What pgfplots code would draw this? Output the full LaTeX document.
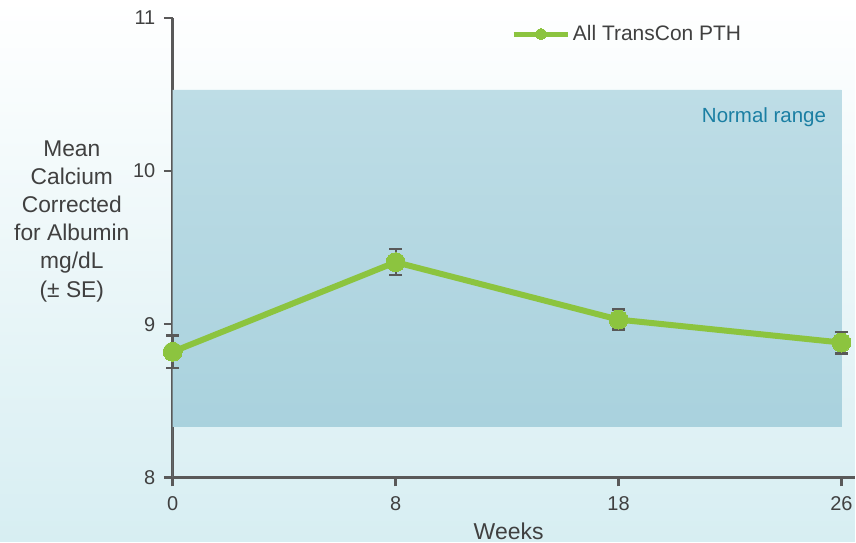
\documentclass[border=0pt]{standalone}
\usepackage{pgfplots}
\pgfplotsset{compat=1.18}
\usepackage{fontspec}
\setmainfont{Liberation Sans}
\definecolor{linegreen}{HTML}{8CC43F}
\definecolor{textgray}{HTML}{404040}
\definecolor{axisgray}{HTML}{595959}
\definecolor{bandtop}{HTML}{BEDDE6}
\definecolor{bandbot}{HTML}{A6D0DC}
\definecolor{bgbot}{HTML}{D7EEF2}
\definecolor{teal}{HTML}{1B7FA3}
\begin{document}
\begin{tikzpicture}[x=1pt,y=1pt]
\shade[top color=white, bottom color=bgbot] (0,0) rectangle (856,542);
\begin{axis}[
  at={(173pt,64pt)}, anchor=south west,
  scale only axis, width=683pt, height=460pt,
  xmin=0, xmax=3.06, ymin=8, ymax=11,
  axis x line*=bottom, axis y line*=left,
  axis line style={axisgray, line width=2.5pt},
  tick style={axisgray, line width=2.5pt},
  major tick length=9pt,
  tick align=outside,
  xtick={0,1,2,3}, xticklabels={0,8,18,26},
  ytick={8,9,10,11},
  minor tick num=0,
  /pgf/number format/assume math mode=true,
  tick label style={font=\fontsize{20}{24}\selectfont, text=textgray},
  yticklabel style={xshift=-5pt},
  xticklabel style={yshift=-7pt},
  xlabel={Weeks},
  xlabel style={font=\fontsize{23}{26}\selectfont, text=textgray, at={(axis description cs:0.4925,-0.1348)}, anchor=base},
  ylabel={Mean\\Calcium\\Corrected\\for Albumin\\mg/dL\\(± SE)},
  ylabel style={rotate=-90, align=center, font=\fontsize{22.8}{28.2}\selectfont, text=textgray, at={(axis description cs:-0.148,0.5576)}, anchor=center},
  legend style={draw=none, fill=none, at={(axis description cs:0.496,0.965)}, anchor=west, font=\fontsize{21}{24}\selectfont, text=textgray, inner sep=0pt, outer sep=0pt},
  legend cell align=left,
  legend image code/.code={
    \draw[#1, mark=none, line width=5pt] (0pt,0pt) -- (55pt,0pt);
    \draw[#1, mark size=5.5pt] plot coordinates {(27.5pt,0pt)};
  },
  clip=false,
]
\addplot[draw=none, shade, top color=bandtop, bottom color=bandbot, forget plot]
  coordinates {(0,8.33) (3,8.33) (3,10.53) (0,10.53)} \closedcycle;
\node[anchor=base east, text=teal, font=\fontsize{20.5}{24}\selectfont] at (axis description cs:0.963,0.772) {Normal range};
\addplot[linegreen, line width=6pt, mark=*, mark size=9.5pt,
  mark options={fill=linegreen, draw=linegreen, line width=0pt},
  error bars/.cd, y dir=both, y explicit,
  error bar style={axisgray, line width=2pt},
  error mark options={rotate=90, mark size=6.5pt, axisgray, line width=2.5pt}]
  coordinates {
  (0,8.82) +- (0,0.105)
  (1,9.405) +- (0,0.085)
  (2,9.03) +- (0,0.065)
  (3,8.88) +- (0,0.07)
  };
\addlegendentry{All TransCon PTH}
\end{axis}
\end{tikzpicture}
\end{document}
